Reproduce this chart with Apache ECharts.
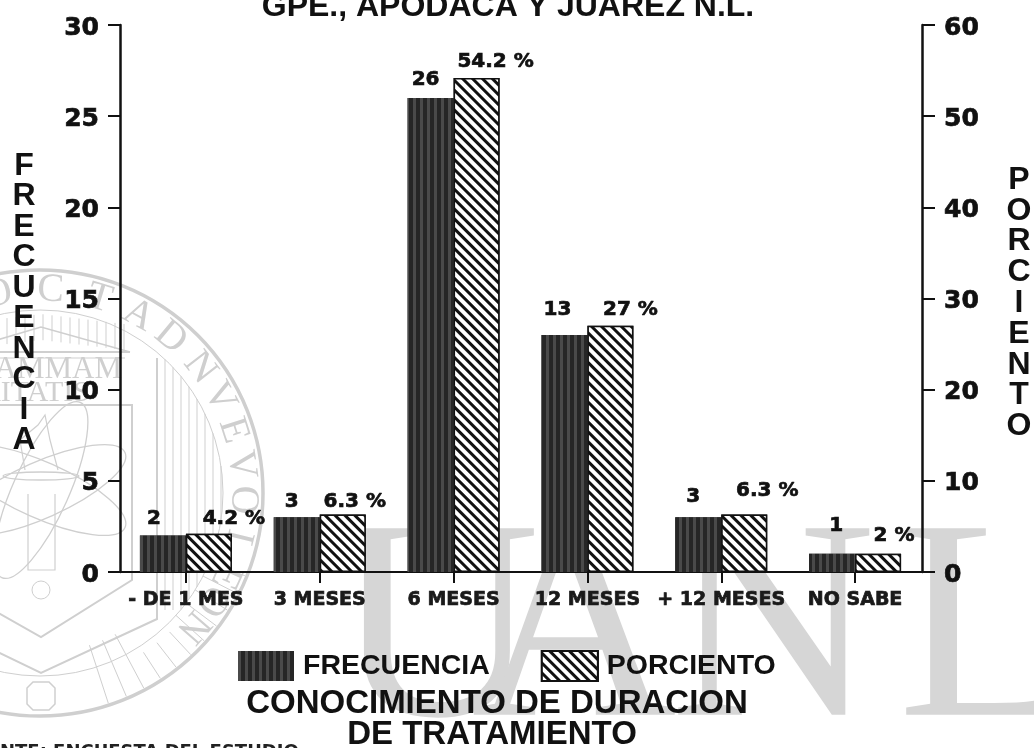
<!DOCTYPE html>
<html><head><meta charset="utf-8">
<style>html,body{margin:0;padding:0;background:#fff}#c{width:1034px;height:748px}</style>
<script src="https://cdn.jsdelivr.net/npm/echarts@6/dist/echarts.min.js"></script>
</head><body><div id="c"></div>
<script>
const categories = ['- DE 1 MES','3 MESES','6 MESES','12 MESES','+ 12 MESES','NO SABE'];
const frecuencia = [2,3,26,13,3,1];
const porciento = [4.2,6.3,54.2,27,6.3,2];
const porcientoLabels = ['4.2 %','6.3 %','54.2 %','27 %','6.3 %','2 %'];
const frecOffsets = [[-9,-4],[-5,-3],[-5,-5],[-7,-12],[-5,-8],[4,-15]];
const porcOffsets = [[25,-2],[12,0],[19,-3],[20,-3],[23,-11],[16,-5]];

const F = 'Liberation Sans', D = 'DejaVu Sans', S = 'Liberation Serif';
const wm = '#cfcfcf';
const chart = echarts.init(document.getElementById('c'));
const hatch = {symbol:'rect',symbolSize:1,dashArrayX:[1,0],dashArrayY:[2.5,4],rotation:Math.PI/4,color:'#111',backgroundColor:'#fff'};
const grain = {symbol:'rect',symbolSize:1,dashArrayX:[3,4],dashArrayY:[1,0],rotation:0,color:'#4a4a4a',backgroundColor:'#262626'};
const heavy = {textBorderColor:'#111',textBorderWidth:0.7};
const tickRich = {t:{color:'#111',fontFamily:D,fontWeight:'bold',fontSize:25,padding:[6,0,0,0],...heavy}};

function vtext(s,x,y,step){return s.split('').map((ch,i)=>({type:'text',x,y:y+i*step,z:5,style:{text:ch,font:'900 32px '+F,fill:'#111',align:'center',verticalAlign:'middle'}}));}
function line(x1,y1,x2,y2,w){return {type:'line',z:-1,shape:{x1,y1,x2,y2},style:{stroke:wm,lineWidth:w||1,fill:'none'}};}
function poly(points,w){return {type:'polyline',z:-1,shape:{points},style:{stroke:wm,lineWidth:w||1.5,fill:'none'}};}
function ell(cx,cy,rx,ry,rot){return {type:'ellipse',z:-1,x:cx,y:cy,rotation:rot,shape:{cx:0,cy:0,rx,ry},style:{fill:'none',stroke:wm,lineWidth:1.3}};}
const CX=40,CY=493;
const sealLetters=[['O',-12],['C',3],['T',17],['A',29],['D',40],['N',52],['V',62],['E',72],['V',82],['O',92],['L',104],['E',114],['O',122],['N',131]];
const seal=[
 {type:'circle',z:-1,shape:{cx:CX,cy:CY,r:223},style:{fill:'none',stroke:wm,lineWidth:3.5}},
 {type:'circle',z:-1,shape:{cx:CX,cy:CY,r:183},style:{fill:'none',stroke:wm,lineWidth:1}},
 ...sealLetters.map(([ch,a])=>{const t=a*Math.PI/180;return {type:'text',z:-1,x:CX+203*Math.sin(t),y:CY-203*Math.cos(t),rotation:-t,style:{text:ch,font:'40px "'+S+'"',fill:wm,align:'center',verticalAlign:'middle'}};}),
 poly([[-20,405],[132,405],[132,580],[41,637],[-60,580]],2),
 poly([[157,358],[157,619],[41,673],[-70,619]],2),
 line(-20,352,130,352,2),line(-20,358,125,358,1),
 poly([[-20,345],[41,327],[130,352]],1.5),
 {type:'text',z:-1,x:122,y:370,style:{text:'ALERE FLAMMAM',font:'31px "'+S+'"',fill:wm,align:'right',verticalAlign:'middle'}},
 {type:'text',z:-1,x:90,y:393,style:{text:'VERITATIS',font:'30px "'+S+'"',fill:wm,align:'right',verticalAlign:'middle'}},
 ell(41,490,92,28,0.42),ell(41,490,92,28,-0.42),ell(41,490,96,28,1.15),
 ell(41,476,38,4,0),
 poly([[28,494],[28,570],[55,570],[55,494]],1.2),
 {type:'circle',z:-1,shape:{cx:41,cy:590,r:9},style:{fill:'none',stroke:wm,lineWidth:1}},
 poly([[25,470],[20,440],[38,425],[45,415],[50,440],[58,470]],1.2),
 {type:'polygon',z:-1,shape:{points:[[33,682],[49,682],[55,688],[55,704],[49,710],[33,710],[27,704],[27,688]]},style:{fill:'none',stroke:wm,lineWidth:1.5}}
];
for(let x=165;x<=222;x+=8){const h=Math.sqrt(183*183-(x-CX)*(x-CX));seal.push(line(x,CY-h,x,Math.min(CY+h,610),1));}
for(let x=-20;x<=130;x+=9){seal.push(line(x,314+Math.abs(x-41)*0.12,x,340+Math.abs(x-41)*0.12,1));}
for(let a=112;a<=245;a+=5){
 if(a>165&&a<195)continue;
 const t=a*Math.PI/180,sx=Math.sin(t),cy=-Math.cos(t);
 const r0=(a<135)?183:(a>150&&a<215?160:190);
 seal.push(line(CX+r0*sx,CY+r0*cy,CX+221*sx,CY+221*cy,1));
}
const bigLetters=[['U',334],['A',471],['N',670],['L',898]];
const wmText=bigLetters.map(([t,x])=>({type:'text',z:-1,x,y:640,style:{text:t,font:'285px "'+S+'"',fill:'#d6d6d6',align:'left',verticalAlign:'middle'}}));

chart.setOption({
 animation:false,
 backgroundColor:'#fff',
 grid:{left:119,right:112,top:25,bottom:176,containLabel:false},
 xAxis:{type:'category',data:categories,
  axisLine:{lineStyle:{color:'#111',width:2}},
  axisTick:{show:true,alignWithLabel:true,length:11,lineStyle:{color:'#111',width:2}},
  axisLabel:{color:'#1a1a1a',fontFamily:D,fontWeight:'bold',fontSize:19,margin:19,interval:0,...heavy}},
 yAxis:[
  {type:'value',min:0,max:30,interval:5,offset:-1,splitLine:{show:false},
   axisLine:{show:true,onZero:false,lineStyle:{color:'#111',width:2.5}},
   axisTick:{show:true,length:12,lineStyle:{color:'#111',width:2}},
   axisLabel:{margin:21,formatter:v=>'{t|'+v+'}',rich:tickRich}},
  {type:'value',min:0,max:60,interval:10,position:'right',splitLine:{show:false},
   axisLine:{show:true,onZero:false,lineStyle:{color:'#111',width:2.5}},
   axisTick:{show:true,length:13,lineStyle:{color:'#111',width:2}},
   axisLabel:{margin:22,formatter:v=>'{t|'+v+'}',rich:tickRich}}
 ],
 legend:{show:true,left:233,top:645,icon:'rect',itemWidth:56,itemHeight:30,itemGap:51,
  textStyle:{color:'#111',fontFamily:F,fontWeight:700,fontSize:28.5,padding:[12,0,0,4]},
  data:['FRECUENCIA','PORCIENTO']},
 series:[
  {name:'FRECUENCIA',type:'bar',yAxisIndex:0,barWidth:46,barGap:0,
   data:frecuencia.map((v,i)=>({value:v,label:{offset:frecOffsets[i]}})),
   itemStyle:{color:'#262626',decal:grain},
   label:{show:true,position:'top',distance:3,color:'#111',fontFamily:D,fontWeight:'bold',fontSize:20,...heavy}},
  {name:'PORCIENTO',type:'bar',yAxisIndex:1,barWidth:46,
   data:porciento.map((v,i)=>({value:v,label:{offset:porcOffsets[i]}})),
   itemStyle:{color:'#fff',borderColor:'#111',borderWidth:1.5,decal:hatch},
   label:{show:true,position:'top',distance:3,color:'#111',fontFamily:D,fontWeight:'bold',fontSize:20,...heavy,
     formatter:p=>porcientoLabels[p.dataIndex]}}
 ],
 aria:{enabled:false},
 graphic:{elements:[
  ...wmText,...seal,
  {type:'text',x:508,y:7,z:5,style:{text:'GPE., APODACA Y JUAREZ N.L.',font:'900 32px '+F,fill:'#111',align:'center',verticalAlign:'middle'}},
  {type:'text',x:497,y:704,z:5,style:{text:'CONOCIMIENTO DE DURACION',font:'900 33px '+F,fill:'#111',align:'center',verticalAlign:'middle'}},
  {type:'text',x:492,y:735,z:5,style:{text:'DE TRATAMIENTO',font:'900 33px '+F,fill:'#111',align:'center',verticalAlign:'middle'}},
  {type:'text',x:0,y:752,z:5,style:{text:'NTE: ENCUESTA DEL ESTUDIO',font:'bold 18px "'+D+'"',fill:'#222',align:'left',verticalAlign:'middle'}},
  ...vtext('FRECUENCIA',24,166,30.5),
  ...vtext('PORCIENTO',1019,180,30.8)
 ]}
});
</script></body></html>
